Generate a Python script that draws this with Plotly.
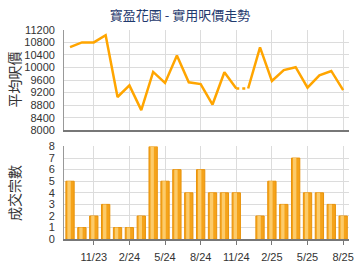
import plotly.graph_objects as go

months = ["9/23","10/23","11/23","12/23","1/24","2/24","3/24","4/24","5/24","6/24","7/24","8/24",
          "9/24","10/24","11/24","12/24","1/25","2/25","3/25","4/25","5/25","6/25","7/25","8/25"]
avg_price = [10650, 10800, 10800, 11030, 9060, 9430, 8640, 9860, 9510, 10380, 9530, 9470,
             8820, 9850, 9330, 9330, 10640, 9570, 9920, 10010, 9360, 9750, 9890, 9280]
volume = [5, 1, 2, 3, 1, 1, 2, 8, 5, 6, 4, 6, 4, 4, 4, 0, 2, 5, 3, 7, 4, 4, 3, 2]
tick_labels = ["11/23", "2/24", "5/24", "8/24", "11/24", "2/25", "5/25", "8/25"]
price_ticks = list(range(8000, 11201, 400))
vol_ticks = list(range(0, 9))

idx = list(range(len(months)))
tick_idx = [months.index(t) for t in tick_labels]
# months with no transactions -> dotted connector, no bar
gaps = [i for i, v in enumerate(volume) if v == 0]
bar_vals = [v if v else None for v in volume]

fig = go.Figure()
ORANGE = "#FFA500"
font = "Liberation Sans, Arial, sans-serif"
cjk = "Noto Sans CJK TC, sans-serif"

# solid segments
start = 0
for g in gaps:
    fig.add_trace(go.Scatter(x=idx[start:g], y=avg_price[start:g], mode="lines",
                             line=dict(color=ORANGE, width=2.5), xaxis="x", yaxis="y",
                             hoverinfo="skip"))
    fig.add_trace(go.Scatter(x=idx[g-1:g+1], y=avg_price[g-1:g+1], mode="lines",
                             line=dict(color=ORANGE, width=2.5, dash="dot"), xaxis="x", yaxis="y",
                             hoverinfo="skip"))
    start = g
fig.add_trace(go.Scatter(x=idx[start:], y=avg_price[start:], mode="lines",
                         line=dict(color=ORANGE, width=2.5), xaxis="x", yaxis="y",
                         hoverinfo="skip"))

# bars with cylinder-like shading
fig.add_trace(go.Bar(x=idx, y=bar_vals, width=0.7, marker=dict(color="#F5A31A",
                     line=dict(color="#E8920A", width=1)), xaxis="x2", yaxis="y2", hoverinfo="skip"))
fig.add_trace(go.Bar(x=[i - 0.08 for i in idx], y=bar_vals, width=0.28,
                     marker=dict(color="#FCCB6A", line=dict(width=0)), xaxis="x2", yaxis="y2",
                     hoverinfo="skip"))

grid = "#DCDCDC"
xd = [65/360, 354/360]
fig.update_layout(
    width=360, height=270, margin=dict(l=0, r=0, t=0, b=0),
    paper_bgcolor="white", plot_bgcolor="white", showlegend=False, barmode="overlay",
    title=dict(text="寶盈花園 - 實用呎價走勢", x=0.5, xanchor="center", y=1 - 15/270, yanchor="middle",
               font=dict(family=cjk, size=13, color="#1F3A6E")),
    xaxis=dict(domain=xd, range=[-0.5, 23.5], tickvals=tick_idx, showticklabels=False,
               showgrid=True, gridcolor=grid, gridwidth=1, zeroline=False,
               showline=True, linecolor="#777", linewidth=2, ticks="", anchor="y"),
    yaxis=dict(domain=[1 - 130/270, 1 - 25/270], range=[8000, 11200], tickvals=price_ticks,
               tickformat="d", ticklabelstandoff=6,
               showgrid=True, gridcolor=grid, gridwidth=1, zeroline=False,
               showline=True, linecolor="#999", linewidth=1,
               tickfont=dict(family=font, size=11, color="#333"), ticks="", anchor="x"),
    xaxis2=dict(domain=xd, range=[-0.5, 23.5], tickvals=tick_idx, ticktext=tick_labels,
                ticklabeloverflow="allow", ticklabelstandoff=3,
                showgrid=True, gridcolor=grid, gridwidth=1, zeroline=False,
                showline=True, linecolor="#777", linewidth=2, ticks="outside", ticklen=4,
                tickcolor="#777", tickfont=dict(family=font, size=11, color="#333"), anchor="y2"),
    yaxis2=dict(domain=[1 - 244/270, 1 - 147/270], range=[0, 8], tickvals=vol_ticks,
                ticklabelstandoff=6,
                showgrid=True, gridcolor=grid, gridwidth=1, zeroline=False,
                showline=True, linecolor="#999", linewidth=1,
                tickfont=dict(family=font, size=11, color="#333"), ticks="", anchor="x2"),
    annotations=[
        dict(text="平均呎價", x=14/360, y=1 - 77/270, xref="paper", yref="paper", textangle=-90,
             xanchor="center", yanchor="middle",
             showarrow=False, font=dict(family=cjk, size=14, color="#333")),
        dict(text="成交宗數", x=14/360, y=1 - 196/270, xref="paper", yref="paper", textangle=-90,
             xanchor="center", yanchor="middle",
             showarrow=False, font=dict(family=cjk, size=14, color="#333")),
    ],
)

fig.write_html("out.html")
